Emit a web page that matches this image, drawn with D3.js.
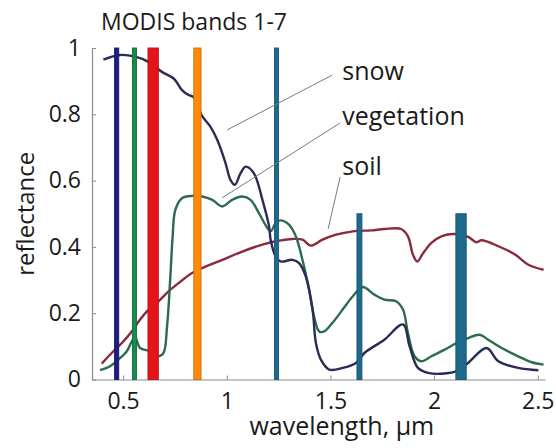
<!DOCTYPE html>
<html>
<head>
<meta charset="utf-8">
<script src="https://cdn.jsdelivr.net/npm/d3@7"></script>
<style>
  body { margin: 0; background: #fff; }
  svg text { font-family: "Open Sans", sans-serif; fill: #1a1a1a; }
</style>
</head>
<body>
<div id="chart"></div>
<script>
// spectra, [wavelength µm, reflectance]
const snow = [
  [0.405, 0.965], [0.485, 0.979], [0.558, 0.974], [0.62, 0.959], [0.687, 0.928],
  [0.744, 0.908], [0.784, 0.873], [0.816, 0.858], [0.84, 0.852], [0.881, 0.795],
  [0.921, 0.763], [0.954, 0.723], [0.994, 0.653], [1.018, 0.602], [1.039, 0.587],
  [1.065, 0.62], [1.091, 0.642], [1.131, 0.622], [1.172, 0.542], [1.204, 0.462],
  [1.212, 0.42], [1.236, 0.371], [1.26, 0.356], [1.317, 0.361], [1.349, 0.351],
  [1.381, 0.311], [1.414, 0.211], [1.43, 0.11], [1.454, 0.06], [1.494, 0.03],
  [1.559, 0.035], [1.623, 0.05], [1.664, 0.08], [1.76, 0.12], [1.85, 0.166],
  [1.882, 0.10], [1.922, 0.035], [1.971, 0.02], [2.051, 0.018], [2.108, 0.025],
  [2.164, 0.05], [2.253, 0.095], [2.31, 0.055], [2.406, 0.035], [2.503, 0.028]
];
const vegetation = [
  [0.389, 0.028], [0.437, 0.04], [0.477, 0.06], [0.518, 0.085], [0.542, 0.115],
  [0.558, 0.127], [0.582, 0.095], [0.631, 0.085], [0.671, 0.07], [0.695, 0.08],
  [0.712, 0.16], [0.728, 0.311], [0.739, 0.432], [0.752, 0.512], [0.784, 0.547],
  [0.833, 0.554], [0.881, 0.552], [0.93, 0.542], [0.978, 0.522], [1.026, 0.542],
  [1.075, 0.552], [1.115, 0.542], [1.155, 0.502], [1.196, 0.457], [1.212, 0.447],
  [1.236, 0.472], [1.26, 0.48], [1.3, 0.467], [1.333, 0.432], [1.365, 0.361],
  [1.397, 0.271], [1.421, 0.19], [1.446, 0.145], [1.47, 0.145], [1.51, 0.171],
  [1.559, 0.211], [1.608, 0.251], [1.656, 0.279], [1.712, 0.256], [1.76, 0.241],
  [1.817, 0.236], [1.85, 0.211], [1.874, 0.14], [1.906, 0.07], [1.938, 0.055],
  [1.987, 0.07], [2.051, 0.09], [2.108, 0.11], [2.164, 0.125], [2.22, 0.135],
  [2.261, 0.12], [2.326, 0.095], [2.406, 0.07], [2.471, 0.052], [2.528, 0.045]
];
const soil = [
  [0.397, 0.048], [0.445, 0.08], [0.494, 0.11], [0.542, 0.145], [0.582, 0.181],
  [0.623, 0.211], [0.671, 0.236], [0.719, 0.266], [0.768, 0.291], [0.833, 0.321],
  [0.881, 0.336], [0.978, 0.361], [1.075, 0.386], [1.172, 0.407], [1.236, 0.417],
  [1.317, 0.424], [1.365, 0.422], [1.405, 0.404], [1.462, 0.422], [1.527, 0.437],
  [1.608, 0.447], [1.698, 0.45], [1.76, 0.454], [1.841, 0.454], [1.874, 0.432],
  [1.898, 0.377], [1.919, 0.356], [1.947, 0.381], [1.987, 0.412], [2.035, 0.432],
  [2.1, 0.439], [2.164, 0.43], [2.205, 0.414], [2.229, 0.42], [2.31, 0.402],
  [2.39, 0.377], [2.455, 0.346], [2.528, 0.331]
];

// MODIS bands 1-7, µm
const bandNames = [1, 2, 3, 4, 5, 6, 7];
const bandLo = [0.620, 0.841, 0.459, 0.545, 1.230, 1.628, 2.105];
const bandHi = [0.670, 0.876, 0.479, 0.565, 1.250, 1.652, 2.155];
const bandTop = [1, 1, 1, 1, 1, 0.5, 0.5];

const xTicks = [0.5, 1, 1.5, 2, 2.5];
const yTicks = [0, 0.2, 0.4, 0.6, 0.8, 1];

const labels = ["snow", "vegetation", "soil"];
const labelPos = [[1.557, 0.903], [1.557, 0.768], [1.557, 0.617]];
const leaders = [
  [[1.002, 0.753], [1.508, 0.918]],
  [[0.978, 0.548], [1.547, 0.774]],
  [[1.489, 0.454], [1.547, 0.611]]
];

const bandColors = ["#e5141b", "#ff8a0a", "#1d1f7e", "#178a4c", "#1f6a8c", "#1f6a8c", "#1f6a8c"];
const curveColors = { snow: "#2b2b55", vegetation: "#2c6b4e", soil: "#8a2a3c" };

const W = 556, H = 448;
const margin = { top: 48, right: 11, bottom: 68.5, left: 92 };
const width = W - margin.left - margin.right;
const height = H - margin.top - margin.bottom;

const svg = d3.select("#chart").append("svg")
    .attr("width", W)
    .attr("height", H);

const g = svg.append("g")
    .attr("transform", `translate(${margin.left},${margin.top})`);

const x = d3.scaleLinear().domain([0.35, 2.535]).range([0, width]);
const y = d3.scaleLinear().domain([0, 1]).range([height, 0]);

// axes, matlab style ticks pointing inward
const xAxis = g.append("g")
    .attr("transform", `translate(0,${height})`)
    .call(d3.axisBottom(x).tickValues(xTicks).tickSizeInner(-4).tickSizeOuter(0).tickPadding(13)
        .tickFormat(d3.format("~g")));
const yAxis = g.append("g")
    .call(d3.axisLeft(y).tickValues(yTicks).tickSizeInner(-4).tickSizeOuter(0).tickPadding(11)
        .tickFormat(d3.format("~g")));

[xAxis, yAxis].forEach(a => {
    a.select(".domain").attr("stroke", "#8a8a8a").attr("stroke-width", 1.2);
    a.selectAll(".tick line").attr("stroke", "#8a8a8a");
    a.selectAll(".tick text").attr("font-size", "23px").attr("fill", "#1a1a1a")
        .attr("font-family", "Open Sans, sans-serif");
});

// curves
const line = d3.line()
    .x(d => x(d[0]))
    .y(d => y(d[1]))
    .curve(d3.curveCatmullRom.alpha(0.5));

[["soil", soil], ["vegetation", vegetation], ["snow", snow]].forEach(([name, data]) => {
    g.append("path")
        .datum(data)
        .attr("fill", "none")
        .attr("stroke", curveColors[name])
        .attr("stroke-width", 2.4)
        .attr("stroke-linejoin", "round")
        .attr("d", line);
});

// bands on top
g.selectAll(".band")
    .data(bandNames)
    .enter()
    .append("rect")
    .attr("class", "band")
    .attr("x", (d, i) => x(bandLo[i]))
    .attr("width", (d, i) => x(bandHi[i]) - x(bandLo[i]))
    .attr("y", (d, i) => y(bandTop[i]))
    .attr("height", (d, i) => y(0) - y(bandTop[i]))
    .attr("fill", (d, i) => bandColors[i])
    .attr("stroke", (d, i) => d3.color(bandColors[i]).darker(0.6))
    .attr("stroke-width", 0.9);

// leader lines + labels
g.selectAll(".leader")
    .data(leaders)
    .enter()
    .append("line")
    .attr("x1", d => x(d[0][0]))
    .attr("y1", d => y(d[0][1]))
    .attr("x2", d => x(d[1][0]))
    .attr("y2", d => y(d[1][1]))
    .attr("stroke", "#7a7a7a")
    .attr("stroke-width", 1);

g.selectAll(".curve-label")
    .data(labels)
    .enter()
    .append("text")
    .attr("x", (d, i) => x(labelPos[i][0]))
    .attr("y", (d, i) => y(labelPos[i][1]))
    .attr("font-size", "25px")
    .text(d => d);

// titles
svg.append("text")
    .attr("x", 101)
    .attr("y", 30)
    .attr("font-size", "23px")
    .text("MODIS bands 1-7");

svg.append("text")
    .attr("text-anchor", "middle")
    .attr("x", margin.left + x(1.555))
    .attr("y", 435)
    .attr("font-size", "25px")
    .text("wavelength, µm");

svg.append("text")
    .attr("text-anchor", "middle")
    .attr("transform", `translate(34,${margin.top + y(0.5)}) rotate(-90)`)
    .attr("font-size", "24px")
    .text("reflectance");
</script>
</body>
</html>
